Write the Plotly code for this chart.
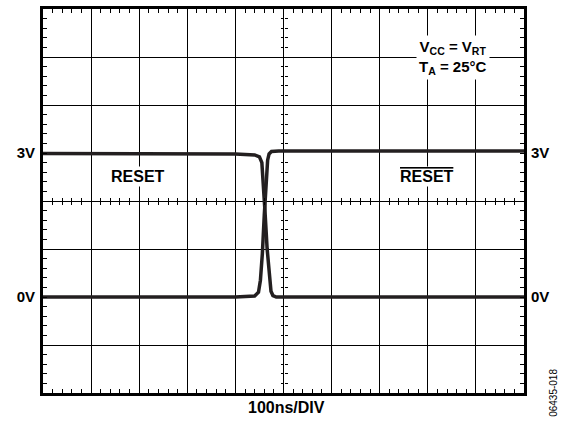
import plotly.graph_objects as go

# Time axis in ns (100 ns/div), voltage in V (1 V/div)
t_reset = [0, 200, 400, 440, 450, 455, 458, 462, 466, 470, 474, 478, 485, 600, 1000]
v_reset = [2.99, 2.99, 2.98, 2.96, 2.92, 2.8, 2.4, 1.7, 1.0, 0.45, 0.12, 0.03, 0.0, 0.0, 0.0]

t_resetb = [0, 400, 440, 448, 452, 456, 460, 464, 467, 470, 475, 490, 1000]
v_resetb = [0, 0, 0.02, 0.1, 0.35, 0.9, 1.7, 2.5, 2.85, 2.98, 3.03, 3.04, 3.04]

level_vals = [0, 3]
level_text = ["<b>0V</b>", "<b>3V</b>"]
grid_y = [-2, -1, 1, 2, 4, 5, 6]   # graticule lines (0 V / 3 V lie under the traces)

X_RANGE = [0, 1000]
Y_RANGE = [-2, 6]
FONT = "Liberation Sans, Arial, sans-serif"
INK = "#231f20"

fig = go.Figure()
fig.add_trace(go.Scatter(x=t_reset, y=v_reset, mode="lines",
                         line=dict(color=INK, width=3.5), showlegend=False))
fig.add_trace(go.Scatter(x=t_resetb, y=v_resetb, mode="lines",
                         line=dict(color=INK, width=3.5), showlegend=False))

minor_x = dict(dtick=20, ticks="inside", ticklen=4, tickwidth=1.3,
               tickcolor="black", showgrid=False)
minor_y = dict(dtick=0.2, ticks="inside", ticklen=4, tickwidth=1.3,
               tickcolor="black", showgrid=False)
lblfont = dict(size=15, family=FONT, color="black")

def center_x(tickdir):
    return dict(range=X_RANGE, overlaying="x", anchor="free", position=0.5,
                side="bottom", showgrid=False, zeroline=False, showline=False,
                showticklabels=False, dtick=100, ticks="", automargin=False,
                minor=dict(dtick=20, ticks=tickdir, ticklen=3, tickwidth=1.3,
                           tickcolor="black", showgrid=False))

def center_y(tickdir):
    return dict(range=Y_RANGE, overlaying="y", anchor="free", position=0.5,
                side="left", showgrid=False, zeroline=False, showline=False,
                showticklabels=False, dtick=1, ticks="", automargin=False,
                minor=dict(dtick=0.2, ticks=tickdir, ticklen=3, tickwidth=1.3,
                           tickcolor="black", showgrid=False))

def label_y(side, standoff):
    return dict(range=Y_RANGE, overlaying="y", side=side, anchor="x",
                tickmode="array", tickvals=level_vals, ticktext=level_text,
                tickfont=lblfont, ticks="", showgrid=False, zeroline=False,
                showline=False, ticklabelstandoff=standoff, automargin=False)

fig.update_layout(
    width=565, height=421,
    margin=dict(l=43, r=41, t=9, b=28),
    paper_bgcolor="white", plot_bgcolor="white",
    font=dict(family=FONT, color="black"),
    xaxis=dict(range=X_RANGE, dtick=100, showgrid=True, gridcolor="black",
               gridwidth=1.4, showline=True, linecolor="black", linewidth=2.5,
               mirror="allticks", ticks="inside", ticklen=4, tickcolor="black",
               showticklabels=False, zeroline=False, minor=minor_x,
               automargin=False),
    yaxis=dict(range=Y_RANGE, tickmode="array", tickvals=grid_y,
               showgrid=True, gridcolor="black",
               gridwidth=1.4, showline=True, linecolor="black", linewidth=2.5,
               mirror="allticks", ticks="inside", ticklen=4, tickcolor="black",
               showticklabels=False, zeroline=False, minor=minor_y,
               automargin=False),
    yaxis2=label_y("left", 7),
    yaxis5=label_y("right", 6),
    xaxis2=center_x("outside"),
    xaxis3=center_x("inside"),
    yaxis3=center_y("outside"),
    yaxis4=center_y("inside"),
)

# bind overlay axes with empty traces
for xa, ya in [("x", "y2"), ("x", "y5"), ("x2", "y"), ("x3", "y"),
               ("x", "y3"), ("x", "y4")]:
    fig.add_trace(go.Scatter(x=[None], y=[None], xaxis=xa, yaxis=ya,
                             showlegend=False, hoverinfo="skip"))

fig.add_annotation(x=198, y=2.52, text="<b>RESET</b>", showarrow=False,
                   font=dict(size=16, family=FONT, color="black"),
                   bgcolor="white", borderpad=1)
fig.add_annotation(x=798, y=2.52,
                   text="<b><span style='text-decoration:overline'>RESET</span></b>",
                   showarrow=False, font=dict(size=16, family=FONT, color="black"),
                   bgcolor="white", borderpad=1)
fig.add_annotation(x=852, y=4.98,
                   text="<b>V<sub>CC</sub> = V<sub>RT</sub><br>T<sub>A</sub> = 25°C</b>",
                   showarrow=False, font=dict(size=15, family=FONT, color="black"),
                   bgcolor="white", borderpad=2)
fig.add_annotation(xref="paper", yref="paper", x=0.507, y=-0.039,
                   text="<b>100ns/DIV</b>", showarrow=False,
                   font=dict(size=16, family=FONT, color="black"),
                   yanchor="middle")
fig.add_annotation(xref="paper", yref="paper", x=1.06, y=0.0,
                   text="06435-018", showarrow=False, textangle=-90,
                   font=dict(size=10, family=FONT, color="black"),
                   xanchor="center", yanchor="middle")

fig.write_html("out.html", config={"displayModeBar": False},
               post_script="document.body.style.margin='0';")
